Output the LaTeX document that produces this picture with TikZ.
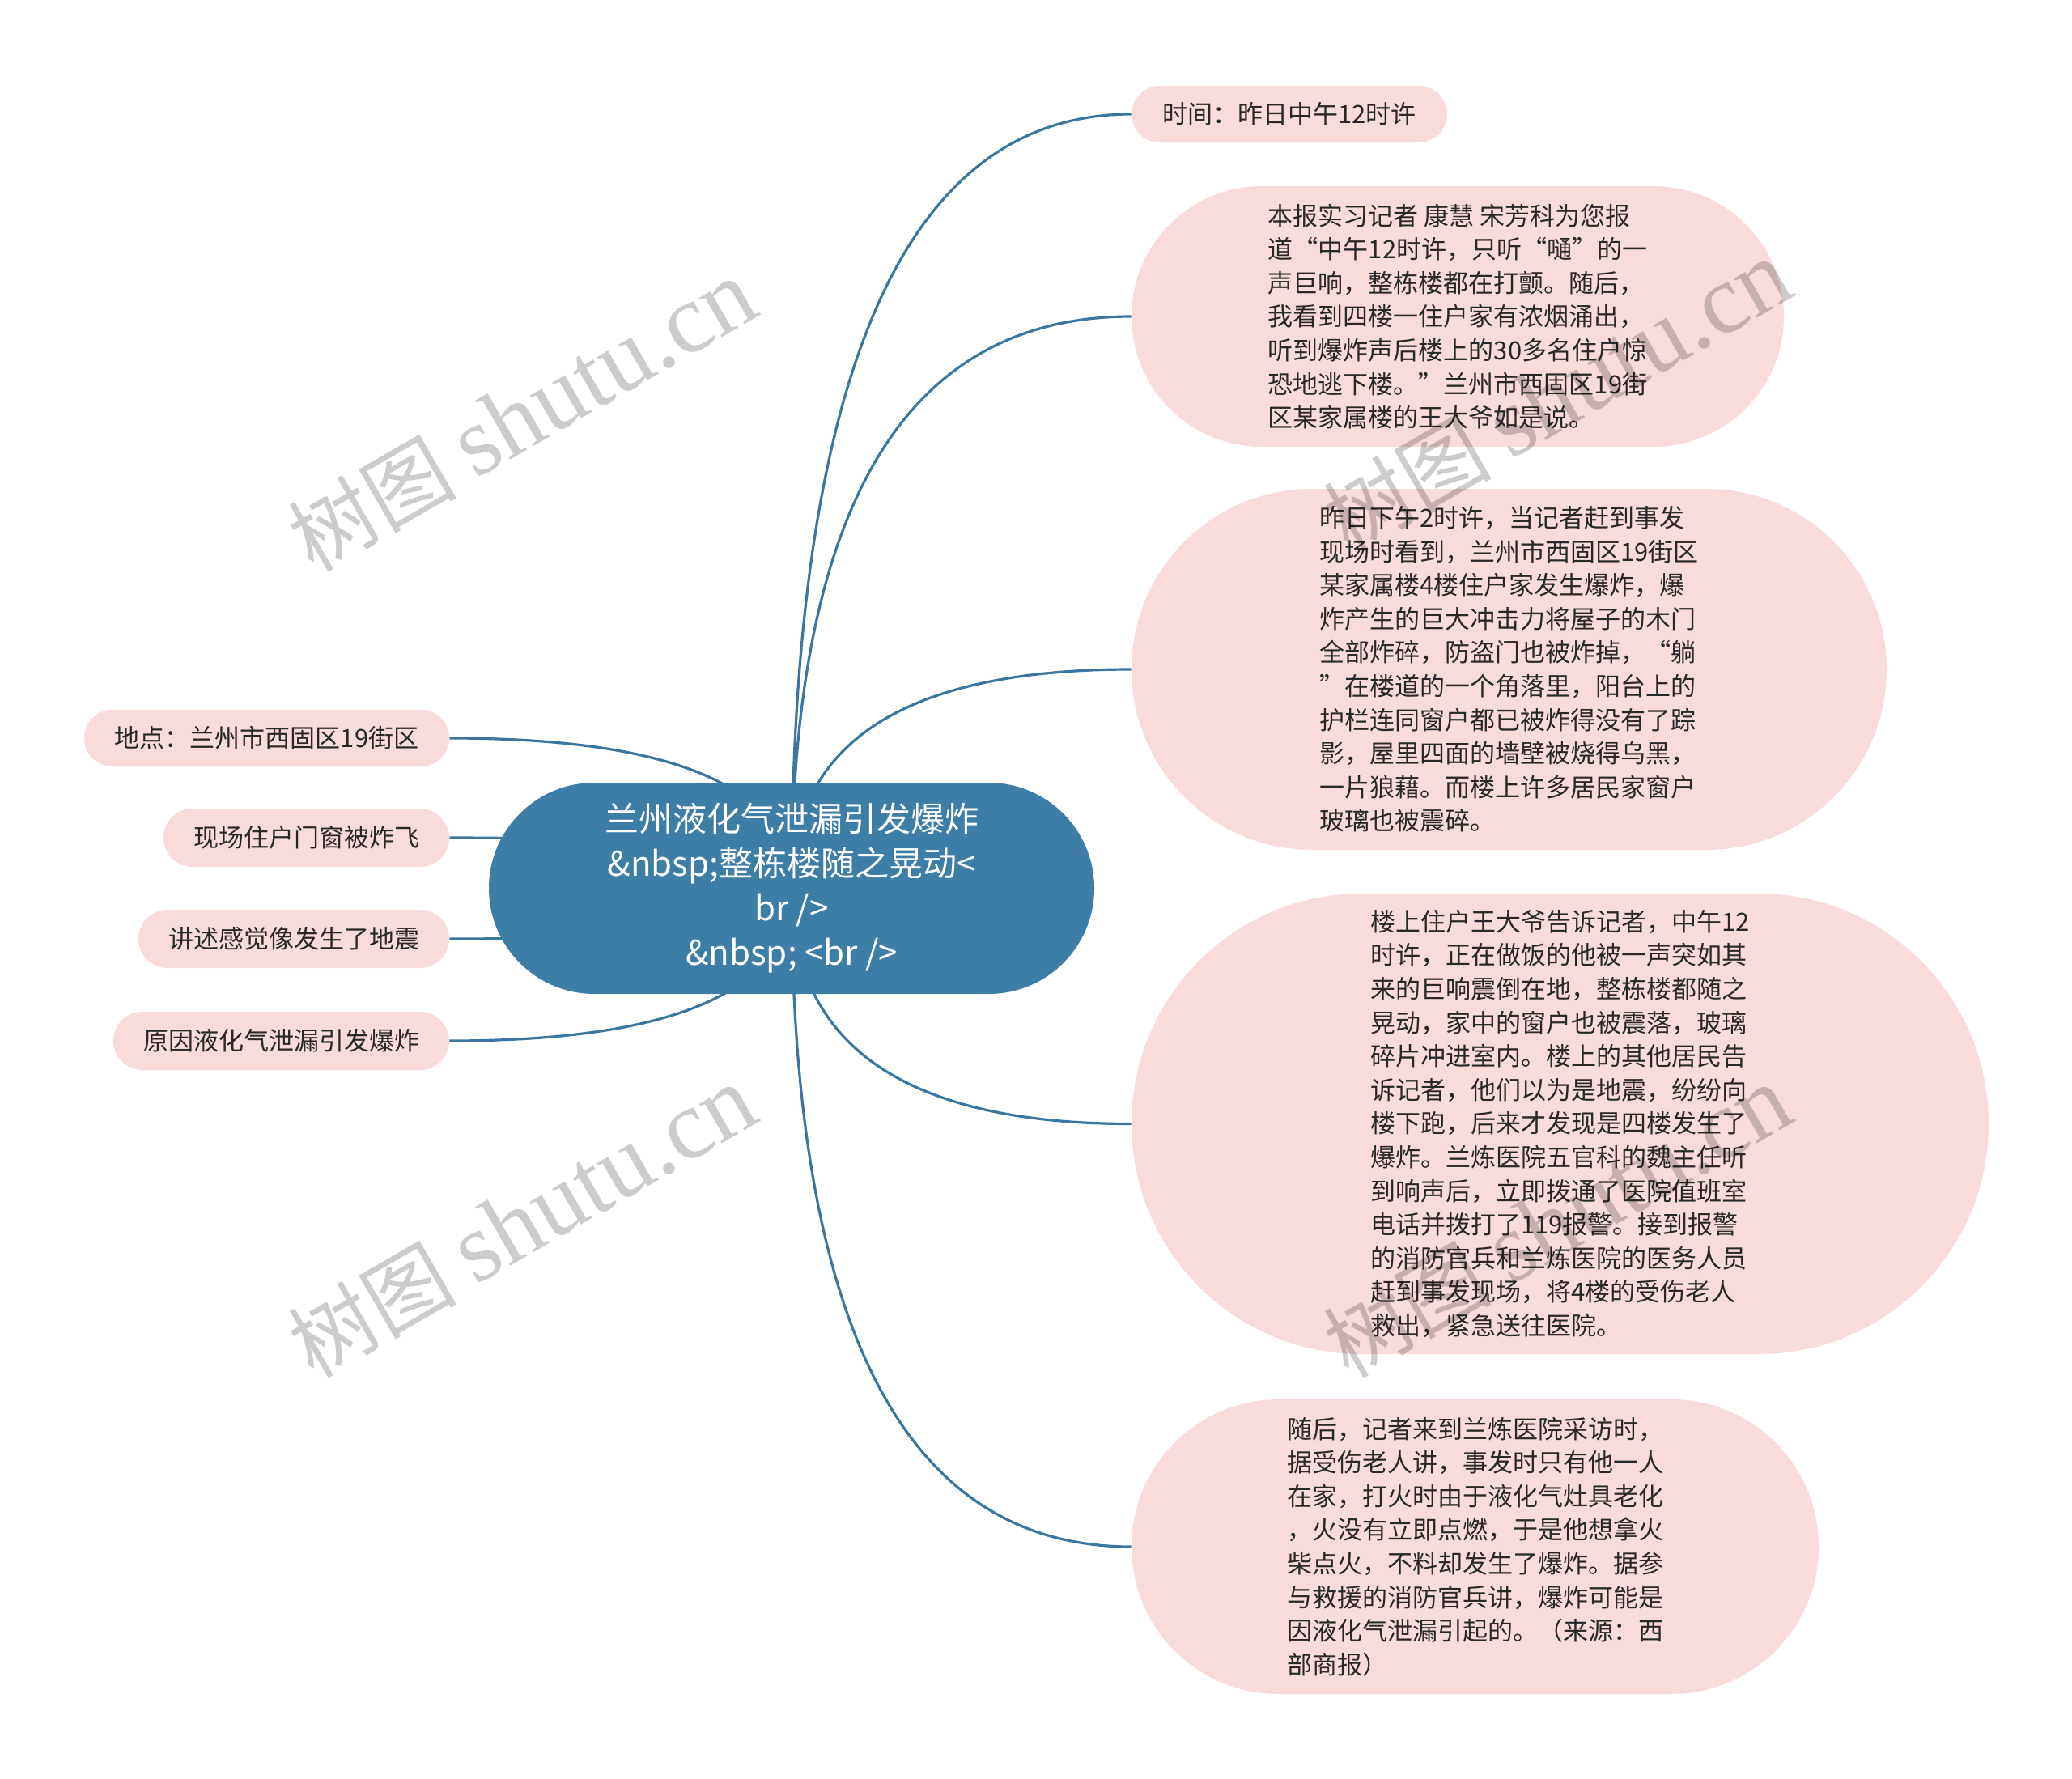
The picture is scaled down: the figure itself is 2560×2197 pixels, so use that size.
\documentclass[tikz,border=0pt]{standalone}
\usepackage{fontspec}
\setmainfont{Noto Sans CJK SC}
\newfontfamily\wmlatin{Liberation Serif}
\newfontfamily\wmcjk{Noto Sans CJK SC}
\usetikzlibrary{calc,backgrounds}
\newdimen\mmpx \mmpx=0.5pt
\definecolor{rootc}{RGB}{62,125,166}
\definecolor{linkc}{RGB}{58,118,160}
\definecolor{pinkc}{RGB}{250,219,219}
\definecolor{textc}{RGB}{40,40,40}
\tikzset{
  rootbox/.style={fill=rootc, text=white, align=center, inner sep=0pt,
    font=\fontsize{21}{27.5}\selectfont,
    minimum width=748\mmpx, minimum height=261\mmpx, rounded corners=130.5\mmpx},
  leafbox/.style={fill=pinkc, text=textc, align=left, inner sep=0pt,
    font=\fontsize{15.5}{20.8}\selectfont},
  link/.style={draw=linkc, line width=1.6pt},
  wm/.style={text=black, text opacity=0.2, inner sep=0pt}
}
\newcommand\mmlink[3]{%
  \draw[link] (#1.center) .. controls ($(#1.center)!0.6667!(#1.center |- #2.#3)$)
     and ($(#2.#3)!0.6667!(#1.center |- #2.#3)$) .. (#2.#3);}
\begin{document}
\begin{tikzpicture}[x=0.5pt,y=-0.5pt]
\useasboundingbox (0,0) rectangle (2560,2197);

\node[rootbox] (root) at (978,1097.5) {兰州液化气泄漏引发爆炸\\\&nbsp;整栋楼随之晃动<\\br />\\\&nbsp; <br />};

\node[leafbox, minimum width=390\mmpx, minimum height=70\mmpx, rounded corners=35\mmpx]
  (r1) at (1593,141) {时间：昨日中午12时许};
\node[leafbox, minimum width=806\mmpx, minimum height=322\mmpx, rounded corners=161\mmpx]
  (r2) at (1801,391) {本报实习记者 康慧 宋芳科为您报\\道“中午12时许，只听“嗵”的一\\声巨响，整栋楼都在打颤。随后，\\我看到四楼一住户家有浓烟涌出，\\听到爆炸声后楼上的30多名住户惊\\恐地逃下楼。”兰州市西固区19街\\区某家属楼的王大爷如是说。};
\node[leafbox, minimum width=933\mmpx, minimum height=446\mmpx, rounded corners=223\mmpx]
  (r3) at (1864.5,827) {昨日下午2时许，当记者赶到事发\\现场时看到，兰州市西固区19街区\\某家属楼4楼住户家发生爆炸，爆\\炸产生的巨大冲击力将屋子的木门\\全部炸碎，防盗门也被炸掉，“躺\\”在楼道的一个角落里，阳台上的\\护栏连同窗户都已被炸得没有了踪\\影，屋里四面的墙壁被烧得乌黑，\\一片狼藉。而楼上许多居民家窗户\\玻璃也被震碎。};
\node[leafbox, minimum width=1059\mmpx, minimum height=569\mmpx, rounded corners=284.5\mmpx]
  (r4) at (1927.5,1388.5) {楼上住户王大爷告诉记者，中午12\\时许，正在做饭的他被一声突如其\\来的巨响震倒在地，整栋楼都随之\\晃动，家中的窗户也被震落，玻璃\\碎片冲进室内。楼上的其他居民告\\诉记者，他们以为是地震，纷纷向\\楼下跑，后来才发现是四楼发生了\\爆炸。兰炼医院五官科的魏主任听\\到响声后，立即拨通了医院值班室\\电话并拨打了119报警。接到报警\\的消防官兵和兰炼医院的医务人员\\赶到事发现场，将4楼的受伤老人\\救出，紧急送往医院。};
\node[leafbox, minimum width=849\mmpx, minimum height=364\mmpx, rounded corners=182\mmpx]
  (r5) at (1822.5,1911) {随后，记者来到兰炼医院采访时，\\据受伤老人讲，事发时只有他一人\\在家，打火时由于液化气灶具老化\\，火没有立即点燃，于是他想拿火\\柴点火，不料却发生了爆炸。据参\\与救援的消防官兵讲，爆炸可能是\\因液化气泄漏引起的。（来源：西\\部商报）};

\node[leafbox, minimum width=451\mmpx, minimum height=70\mmpx, rounded corners=35\mmpx]
  (l1) at (329.5,912) {地点：兰州市西固区19街区};
\node[leafbox, minimum width=353\mmpx, minimum height=72\mmpx, rounded corners=36\mmpx]
  (l2) at (378.5,1035) {现场住户门窗被炸飞};
\node[leafbox, minimum width=384\mmpx, minimum height=72\mmpx, rounded corners=36\mmpx]
  (l3) at (363,1160) {讲述感觉像发生了地震};
\node[leafbox, minimum width=415\mmpx, minimum height=72\mmpx, rounded corners=36\mmpx]
  (l4) at (347.5,1286) {原因液化气泄漏引发爆炸};

\begin{scope}[on background layer]
  \mmlink{root}{r1}{west}
  \mmlink{root}{r2}{west}
  \mmlink{root}{r3}{west}
  \mmlink{root}{r4}{west}
  \mmlink{root}{r5}{west}
  \mmlink{root}{l1}{east}
  \mmlink{root}{l2}{east}
  \mmlink{root}{l3}{east}
  \mmlink{root}{l4}{east}
\end{scope}

\foreach \wx/\wy [count=\i] in {645/514, 645/1510, 1924/490, 1924/1510}{
  \node[wm, rotate=30] (wm\i) at (\wx,\wy)
    {\fontsize{52}{52}\selectfont\wmcjk 树图\ \wmlatin\fontsize{61}{61}\selectfont shutu.cn};
}
\end{tikzpicture}
\end{document}
